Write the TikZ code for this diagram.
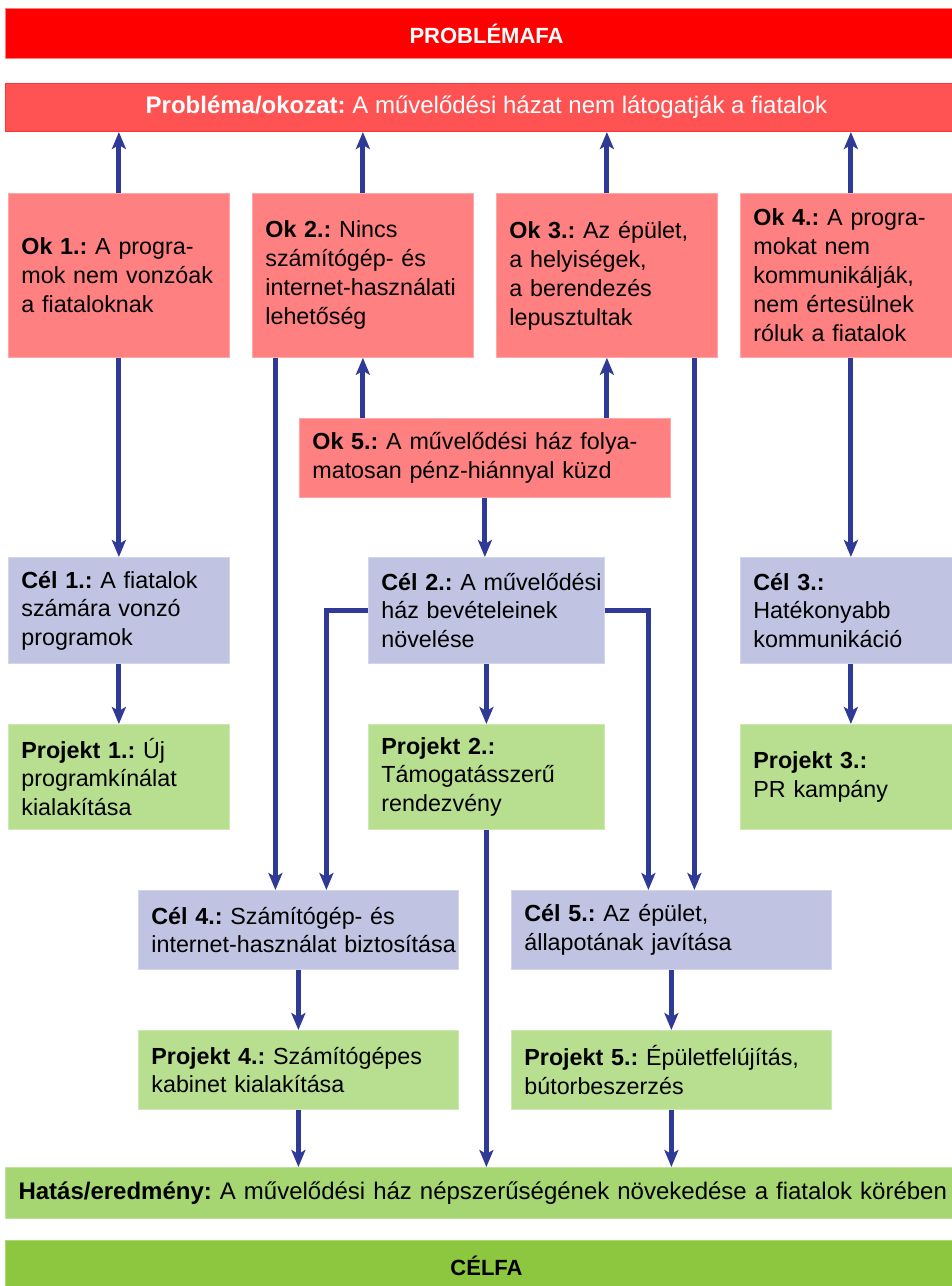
\documentclass[tikz,border=0pt]{standalone}
\usepackage{fontspec}
\setmainfont{Liberation Sans}
\usepackage{xcolor}
\usepackage{tikz}
\usetikzlibrary{arrows.meta, calc}
\frenchspacing
\hyphenpenalty=10000
\exhyphenpenalty=10000
\definecolor{bandred}{HTML}{FF0000}
\definecolor{problemred}{HTML}{FF5252}
\definecolor{causered}{HTML}{FF8080}
\definecolor{goalblue}{HTML}{C0C3E1}
\definecolor{projgreen}{HTML}{B8DF8F}
\definecolor{impactgreen}{HTML}{A6D672}
\definecolor{bandgreen}{HTML}{8DC63F}
\definecolor{linkblue}{HTML}{2E3A96}

\begin{document}
\begin{tikzpicture}[x=1pt, y=-1pt, font=\fontsize{23.3}{29}\selectfont,
  box/.style={rectangle, anchor=north west, align=left, inner xsep=13pt, inner ysep=0pt, line width=0.8pt},
  causebox/.style={box, fill=causered, draw=causered!70!white},
  goalbox/.style={box, fill=goalblue, draw=goalblue!70!white, font=\fontsize{23.3}{28.5}\selectfont},
  projbox/.style={box, fill=projgreen, draw=projgreen!70!white, font=\fontsize{23.3}{28.5}\selectfont},
  band/.style={rectangle, anchor=north west, minimum width=962pt, inner sep=0pt, line width=1pt},
  conn/.style={draw=linkblue, line width=5pt, -{Stealth[length=17pt, width=14pt, inset=4pt]}}]
  \useasboundingbox (0,0) rectangle (952,1286);
  \clip (0,0) rectangle (952,1286);
  \node[band, fill=bandred, draw=bandred!50!white, minimum height=50pt, text=white, font=\fontsize{22}{26}\selectfont\bfseries] (probfa) at (5,8) {PROBLÉMAFA};
  \node[band, fill=problemred, draw=red!80!white, minimum height=48pt, text=white, font=\fontsize{24}{28}\selectfont] (prob) at (5,83) {\textbf{Probléma/okozat:} A művelődési házat nem látogatják a fiatalok};
  \node[causebox, text width=195pt, minimum height=164pt] (ok1) at (8,193) {\textbf{Ok 1.:} A progra-\\mok nem vonzóak\\a fiataloknak};
  \node[causebox, text width=195pt, minimum height=164pt] (ok2) at (252,193) {\textbf{Ok 2.:} Nincs\\számítógép- és\\internet-használati\\lehetőség};
  \node[causebox, text width=195pt, minimum height=164pt] (ok3) at (496,193) {\textbf{Ok 3.:} Az épület,\\a helyiségek,\\a berendezés\\lepusztultak};
  \node[causebox, text width=195pt, minimum height=164pt] (ok4) at (740,193) {\textbf{Ok 4.:} A progra-\\mokat nem\\kommunikálják,\\nem értesülnek\\róluk a fiatalok};
  \node[causebox, text width=345pt, minimum height=79pt] (ok5) at (299,418) {\textbf{Ok 5.:} A művelődési ház folya-\\matosan pénz-hiánnyal küzd};
  \node[goalbox, text width=195pt, minimum height=106pt] (cel1) at (8,557) {\textbf{Cél 1.:} A fiatalok\\számára vonzó\\programok};
  \node[goalbox, text width=210pt, minimum height=106pt] (cel2) at (368,557) {\textbf{Cél~2.:}~A~művelődési\\ház bevételeinek\\növelése};
  \node[goalbox, text width=195pt, minimum height=106pt] (cel3) at (740,557) {\textbf{Cél 3.:}\\Hatékonyabb\\kommunikáció};
  \node[projbox, text width=195pt, minimum height=105pt] (proj1) at (8,724) {\textbf{Projekt 1.:} Új\\programkínálat\\kialakítása};
  \node[projbox, text width=210pt, minimum height=105pt] (proj2) at (368,724) {\textbf{Projekt 2.:}\\Támogatásszerű\\rendezvény};
  \node[projbox, text width=195pt, minimum height=105pt] (proj3) at (740,724) {\textbf{Projekt 3.:}\\PR kampány};
  \node[goalbox, text width=294pt, minimum height=79pt] (cel4) at (138,890) {\textbf{Cél 4.:} Számítógép- és\\internet-használat~biztosítása};
  \node[goalbox, text width=294pt, minimum height=79pt] (cel5) at (511,890) {\textbf{Cél 5.:} Az épület,\\állapotának javítása};
  \node[projbox, text width=294pt, minimum height=79pt] (proj4) at (138,1030) {\textbf{Projekt 4.:} Számítógépes\\kabinet kialakítása};
  \node[projbox, text width=294pt, minimum height=79pt] (proj5) at (511,1030) {\textbf{Projekt 5.:} Épületfelújítás,\\bútorbeszerzés};
  \node[band, fill=impactgreen, draw=impactgreen!70!white, minimum height=51pt, inner xsep=13pt, text width=936pt, align=left, font=\fontsize{24}{28}\selectfont] (hatas) at (5,1167) {\textbf{Hatás/eredmény:} A művelődési ház népszerűségének növekedése a fiatalok körében};
  \node[band, fill=bandgreen, draw=bandgreen!70!white, minimum height=50pt, font=\fontsize{22}{26}\selectfont\bfseries] (celfa) at (5,1240) {CÉLFA};
  \draw[conn] (ok1.north) -- (ok1.north |- prob.south);
  \draw[conn] (ok2.north) -- (ok2.north |- prob.south);
  \draw[conn] (ok3.north) -- (ok3.north |- prob.south);
  \draw[conn] (ok4.north) -- (ok4.north |- prob.south);
  \draw[conn] (ok2.south |- ok5.north) -- (ok2.south);
  \draw[conn] (ok3.south |- ok5.north) -- (ok3.south);
  \draw[conn] (ok5.south) -- (ok5.south |- cel2.north);
  \draw[conn] (ok1.south) -- (cel1.north);
  \draw[conn] (ok4.south) -- (cel3.north);
  \draw[conn] ([xshift=-23pt]cel4.north |- ok2.south) -- ([xshift=-23pt]cel4.north);
  \draw[conn] ([xshift=23pt]cel5.north |- ok3.south) -- ([xshift=23pt]cel5.north);
  \draw[conn] (cel2.west) -| ([xshift=28pt]cel4.north);
  \draw[conn] (cel2.east) -| ([xshift=-23pt]cel5.north);
  \draw[conn] (cel1.south) -- (proj1.north);
  \draw[conn] (cel2.south) -- (proj2.north);
  \draw[conn] (cel3.south) -- (proj3.north);
  \draw[conn] (cel4.south) -- (proj4.north);
  \draw[conn] (cel5.south) -- (proj5.north);
  \draw[conn] (proj2.south) -- (proj2.south |- hatas.north);
  \draw[conn] (proj4.south) -- (proj4.south |- hatas.north);
  \draw[conn] (proj5.south) -- (proj5.south |- hatas.north);
\end{tikzpicture}
\end{document}
